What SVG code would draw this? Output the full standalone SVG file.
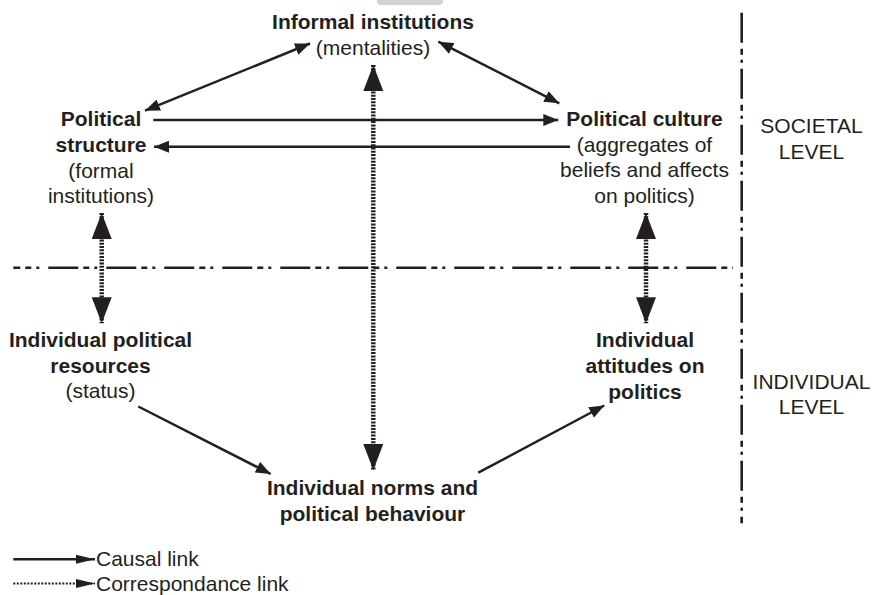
<svg xmlns="http://www.w3.org/2000/svg" width="874" height="595" viewBox="0 0 874 595">
<style>
text{font-family:"Liberation Sans",Arial,sans-serif;font-size:21px;fill:#231f20}
.b{font-weight:bold}
.m{text-anchor:middle}
.causal{stroke:#231f20;stroke-width:2.5;fill:none}
.corr{stroke:#231f20;stroke-width:4.5;stroke-dasharray:2 1.3;fill:none}
.lcorr{stroke:#231f20;stroke-width:2;stroke-dasharray:2 1.5;fill:none}
.level{stroke:#231f20;stroke-width:2.6;fill:none}
</style>
<defs>
<marker id="ah" markerUnits="userSpaceOnUse" markerWidth="16" markerHeight="12" refX="15" refY="6" orient="auto-start-reverse"><path d="M0,0 L15,6 L0,12 z" fill="#231f20"/></marker>
<marker id="ahl" markerUnits="userSpaceOnUse" markerWidth="20" markerHeight="10" refX="19" refY="4.5" orient="auto"><path d="M0,0 L19,4.5 L0,9 z" fill="#231f20"/></marker>
<marker id="dh" markerUnits="userSpaceOnUse" markerWidth="27" markerHeight="21" refX="26" refY="10" orient="auto-start-reverse"><path d="M0,0 L26,10 L0,20 z" fill="#231f20"/></marker>
</defs>
<path d="M377,0 L443,0 L443,1 Q443,5 439,5 L381,5 Q377,5 377,1 z" fill="#d2d2d2"/>
<g id="level-lines">
<line class="level" x1="13.3" y1="267.7" x2="733" y2="267.7" stroke-dasharray="30 5 6 5 3 9" stroke-dashoffset="23"/>
<line class="level" x1="741.7" y1="12.7" x2="741.7" y2="523.3" stroke-dasharray="30 6 6 5 3 6"/>
</g>
<g id="connectors">
<line class="causal" x1="153.3" y1="120" x2="558.3" y2="120" marker-end="url(#ah)"/>
<line class="causal" x1="570" y1="146.7" x2="154" y2="146.7" marker-end="url(#ah)"/>
<line class="causal" x1="145" y1="110.7" x2="310" y2="43.5" marker-start="url(#ah)" marker-end="url(#ah)"/>
<line class="causal" x1="438.3" y1="41.7" x2="559.3" y2="103.3" marker-start="url(#ah)" marker-end="url(#ah)"/>
<line class="causal" x1="138.3" y1="406.5" x2="270.7" y2="474" marker-end="url(#ah)"/>
<line class="causal" x1="478.3" y1="472.7" x2="604.3" y2="405.5" marker-end="url(#ah)"/>
<line class="corr" x1="373.3" y1="65" x2="373.3" y2="470" marker-start="url(#dh)" marker-end="url(#dh)"/>
<line class="corr" x1="101.7" y1="213" x2="101.7" y2="323.3" marker-start="url(#dh)" marker-end="url(#dh)"/>
<line class="corr" x1="646" y1="213" x2="646" y2="323.3" marker-start="url(#dh)" marker-end="url(#dh)"/>
</g>
<g id="informal-institutions">
<text class="b m" x="373" y="29">Informal institutions</text>
<text class="m" x="373" y="55">(mentalities)</text>
</g>
<g id="political-structure">
<text class="b m" x="101" y="126">Political</text>
<text class="b m" x="101" y="152">structure</text>
<text class="m" x="101" y="177.5">(formal</text>
<text class="m" x="101" y="203">institutions)</text>
</g>
<g id="political-culture">
<text class="b m" x="644.5" y="126">Political culture</text>
<text class="m" x="644.5" y="151.5">(aggregates of</text>
<text class="m" x="644.5" y="177">beliefs and affects</text>
<text class="m" x="644.5" y="202.5">on politics)</text>
</g>
<g id="societal-level">
<text class="m" x="811.5" y="133">SOCIETAL</text>
<text class="m" x="811.5" y="158.5">LEVEL</text>
</g>
<g id="individual-resources">
<text class="b m" x="100.5" y="347">Individual political</text>
<text class="b m" x="100.5" y="372.5">resources</text>
<text class="m" x="100.5" y="398">(status)</text>
</g>
<g id="individual-attitudes">
<text class="b m" x="645" y="347">Individual</text>
<text class="b m" x="645" y="373">attitudes on</text>
<text class="b m" x="645" y="398.5">politics</text>
</g>
<g id="individual-level">
<text class="m" x="811.5" y="388.5">INDIVIDUAL</text>
<text class="m" x="811.5" y="414">LEVEL</text>
</g>
<g id="individual-norms">
<text class="b m" x="372.5" y="495">Individual norms and</text>
<text class="b m" x="372.5" y="520.5">political behaviour</text>
</g>
<g id="legend">
<line class="causal" x1="13.3" y1="559.3" x2="95" y2="559.3" marker-end="url(#ahl)"/>
<text x="96" y="566">Causal link</text>
<line class="lcorr" x1="13.3" y1="583.5" x2="95" y2="583.5" marker-end="url(#ahl)"/>
<text x="96" y="591">Correspondance link</text>
</g>
</svg>
